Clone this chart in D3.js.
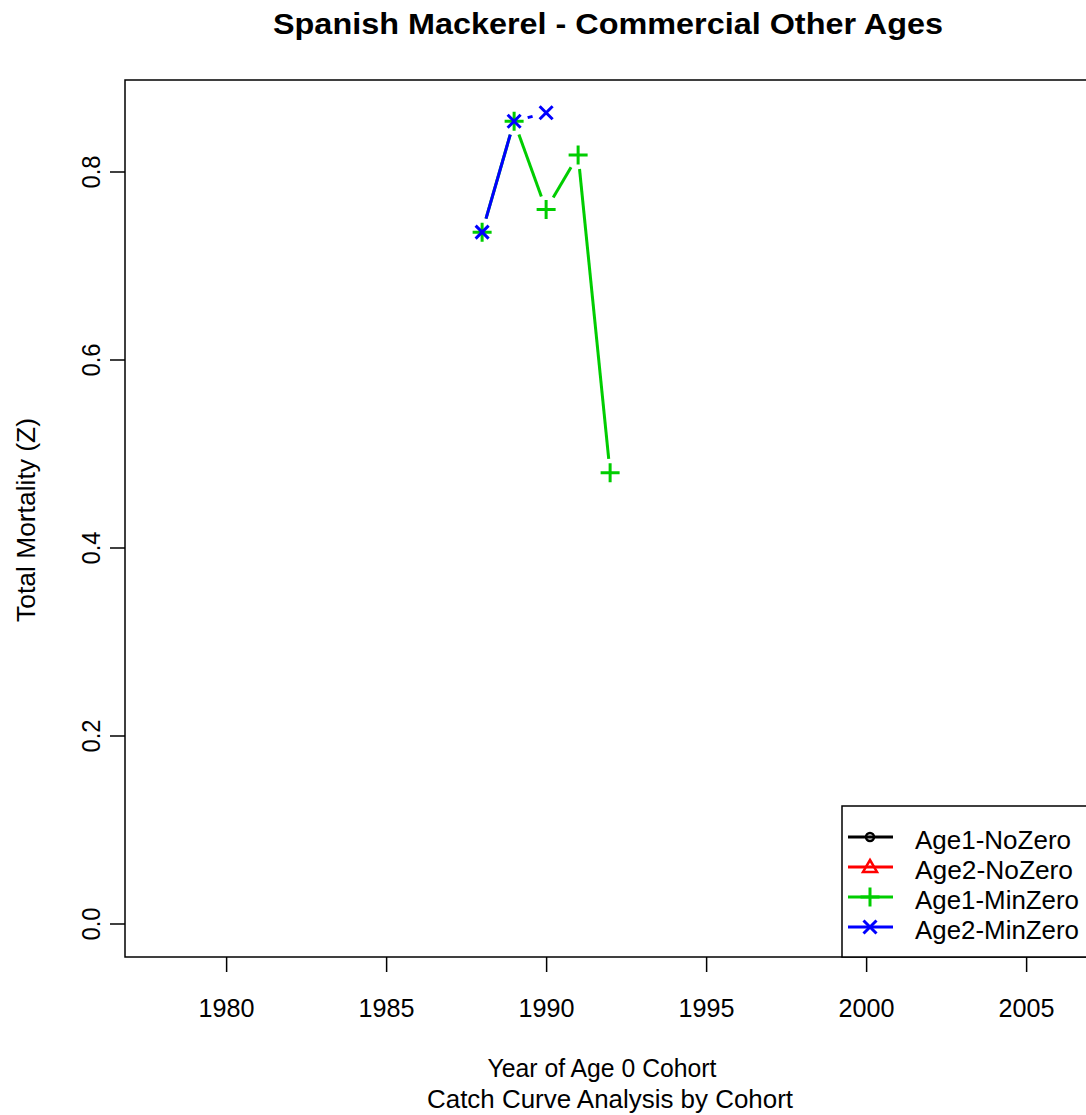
<!DOCTYPE html>
<html><head><meta charset="utf-8">
<script src="https://cdn.jsdelivr.net/npm/d3@7"></script>
<style>body{margin:0;background:#fff;} svg{display:block;font-family:"Liberation Sans",Arial,sans-serif;}</style>
</head><body>
<script>
const title = "Spanish Mackerel - Commercial Other Ages";
const xLabel1 = "Year of Age 0 Cohort";
const xLabel2 = "Catch Curve Analysis by Cohort";
const yLabel = "Total Mortality (Z)";
const xTicks = [1980, 1985, 1990, 1995, 2000, 2005];
const yTicks = [0.0, 0.2, 0.4, 0.6, 0.8];
const seriesNames = ["Age1-NoZero", "Age2-NoZero", "Age1-MinZero", "Age2-MinZero"];
const seriesColors = ["#000000", "#ff0000", "#00cd00", "#0000ff"];
const seriesShapes = ["circle", "triangle", "plus", "cross"];
const age1NoZero = [];
const age2NoZero = [];
const age1MinZeroYears = [1988, 1989, 1990, 1991, 1992];
const age1MinZero = [0.736, 0.854, 0.760, 0.818, 0.480];
const age2MinZeroYears = [1988, 1989, 1990];
const age2MinZero = [0.736, 0.854, 0.863];

const W = 1086, H = 1115;
const m = {left:125, right:1090, top:80, bottom:957};
const svg = d3.select("body").append("svg").attr("width", W).attr("height", H);
const x = d3.scaleLinear().domain([1976.84, 2007.0]).range([m.left, m.left + (2007.0-1976.84)*32]);
const y = d3.scaleLinear().domain([0, 0.8]).range([924, 172]);

// box
svg.append("rect").attr("x", m.left).attr("y", m.top).attr("width", m.right-m.left).attr("height", m.bottom-m.top)
  .attr("fill","none").attr("stroke","#000").attr("stroke-width",1.5);

// axes
const xa = svg.append("g").attr("transform",`translate(0,${m.bottom})`)
  .call(d3.axisBottom(x).tickValues(xTicks).tickSize(15).tickFormat(d3.format("d")));
xa.select(".domain").remove();
xa.selectAll("line").attr("stroke-width",1.5);
xa.selectAll("text").attr("font-size",26).attr("fill","#000").attr("font-family","Liberation Sans, Arial, sans-serif")
  .attr("dy",null).attr("y",60).attr("textLength",56).attr("lengthAdjust","spacingAndGlyphs");

const ya = svg.append("g").attr("transform",`translate(${m.left},0)`)
  .call(d3.axisLeft(y).tickValues(yTicks).tickSize(15).tickFormat(d3.format(".1f")));
ya.select(".domain").remove();
ya.selectAll("line").attr("stroke-width",1.5);
ya.selectAll(".tick").attr("transform", "translate(0,0)");
ya.selectAll(".tick line").attr("y1", d=>y(d)).attr("y2", d=>y(d));
ya.selectAll("text").attr("font-size",26).attr("fill","#000").attr("font-family","Liberation Sans, Arial, sans-serif")
  .attr("text-anchor","middle").attr("dy",null).attr("x",0).attr("y",0)
  .attr("transform", d => `translate(${100-m.left},${y(d)}) rotate(-90)`)
  .attr("textLength",33).attr("lengthAdjust","spacingAndGlyphs");

// titles
function label(txt, tx, ty, size, len, bold, rot){
  const t = svg.append("text").attr("text-anchor","middle").attr("font-size",size)
    .attr("textLength",len).attr("lengthAdjust","spacingAndGlyphs").text(txt);
  if(bold) t.attr("font-weight","bold");
  if(rot) t.attr("transform",`translate(${tx},${ty}) rotate(-90)`);
  else t.attr("x",tx).attr("y",ty);
}
label(title, 608, 34, 29, 670, true, false);
label(xLabel1, 602, 1077, 26, 229, false, false);
label(xLabel2, 610, 1108, 26, 366, false, false);
label(yLabel, 35, 520, 26, 204, false, true);

function drawShape(g, shape, cx, cy, color){
  if(shape==="plus"){
    g.append("path").attr("d",`M${cx-9.5},${cy}H${cx+9.5}M${cx},${cy-9.5}V${cy+9.5}`).attr("stroke",color).attr("stroke-width",3).attr("fill","none");
  } else if(shape==="cross"){
    const s=6.5;
    g.append("path").attr("d",`M${cx-s},${cy-s}L${cx+s},${cy+s}M${cx-s},${cy+s}L${cx+s},${cy-s}`).attr("stroke",color).attr("stroke-width",3).attr("fill","none");
  } else if(shape==="circle"){
    g.append("circle").attr("cx",cx).attr("cy",cy).attr("r",4).attr("stroke",color).attr("stroke-width",2.5).attr("fill","none");
  } else if(shape==="triangle"){
    const s=7;
    g.append("path").attr("d",`M${cx},${cy-s}L${cx+s},${cy+s*0.7}L${cx-s},${cy+s*0.7}Z`).attr("stroke",color).attr("stroke-width",2.5).attr("fill","none");
  }
}

// type "b" lines with gaps
const gap = 14;
function drawSeries(years, vals, color, shape){
  const g = svg.append("g");
  const pts = years.map((yr,i)=>[x(yr), y(vals[i])]);
  for(let i=0;i<pts.length-1;i++){
    const [x0,y0]=pts[i],[x1,y1]=pts[i+1];
    const dx=x1-x0, dy=y1-y0, L=Math.hypot(dx,dy);
    if(L>2*gap){
      const ux=dx/L, uy=dy/L;
      g.append("line").attr("x1",x0+ux*gap).attr("y1",y0+uy*gap).attr("x2",x1-ux*gap).attr("y2",y1-uy*gap)
        .attr("stroke",color).attr("stroke-width",3);
    }
  }
  pts.forEach(p=>drawShape(g, shape, p[0], p[1], color));
}
drawSeries([], age1NoZero, seriesColors[0], seriesShapes[0]);
drawSeries([], age2NoZero, seriesColors[1], seriesShapes[1]);
drawSeries(age1MinZeroYears, age1MinZero, seriesColors[2], seriesShapes[2]);
drawSeries(age2MinZeroYears, age2MinZero, seriesColors[3], seriesShapes[3]);

// legend
const lg = svg.append("g");
lg.append("rect").attr("x",842).attr("y",806).attr("width",260).attr("height",151).attr("fill","#fff").attr("stroke","#000").attr("stroke-width",1.5);
const legLens = [156, 158, 164, 164];
seriesNames.forEach((n,i)=>{
  const yy = 837 + i*30;
  lg.append("line").attr("x1",848).attr("x2",893).attr("y1",yy).attr("y2",yy).attr("stroke",seriesColors[i]).attr("stroke-width",3);
  drawShape(lg, seriesShapes[i], 870, yy, seriesColors[i]);
  lg.append("text").attr("x",915).attr("y",yy+11.5).attr("font-size",25)
    .attr("textLength",legLens[i]).attr("lengthAdjust","spacingAndGlyphs").text(n);
});
</script>
</body></html>
